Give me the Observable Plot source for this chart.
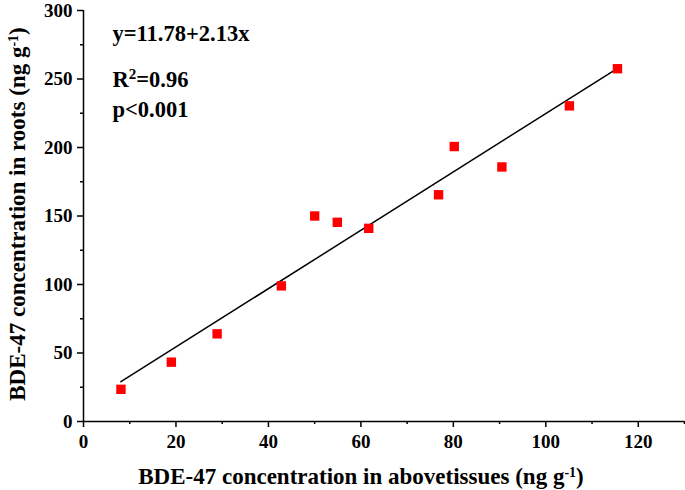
<!DOCTYPE html>
<html>
<head>
<meta charset="utf-8">
<script src="https://cdn.jsdelivr.net/npm/d3@7"></script>
<script src="https://cdn.jsdelivr.net/npm/@observablehq/plot@0.6"></script>
<style>
  html, body { margin: 0; padding: 0; background: #fff; }
  #chart { width: 685px; height: 490px; }
</style>
</head>
<body>
<div id="chart"></div>
<script>
// Data
const aboveTissues = [8.1, 19.0, 28.9, 42.8, 50.0, 54.9, 61.7, 76.8, 80.2, 90.5, 105.1, 115.5];
const roots       = [23.5, 43.3, 64.0, 99.0, 150.0, 145.4, 141.0, 165.5, 200.7, 185.8, 230.4, 257.5];
const fitIntercept = 11.78;
const fitSlope = 2.13;
const annotations = ["y=11.78+2.13x", "R\u00B2=0.96", "p<0.001"];
const xMajorTicks = [0, 20, 40, 60, 80, 100, 120];
const xMinorTicks = [10, 30, 50, 70, 90, 110, 130];
const yMajorTicks = [0, 50, 100, 150, 200, 250, 300];
const yMinorTicks = [25, 75, 125, 175, 225, 275];
const xTitle = "BDE-47 concentration in abovetissues (ng g";
const yTitle = "BDE-47 concentration in roots (ng g";

const points = aboveTissues.map((x, i) => ({x, y: roots[i]}));
const xMin = d3.min(aboveTissues), xMax = d3.max(aboveTissues);
const fitLine = [xMin, xMax].map(x => ({x, y: fitIntercept + fitSlope * x}));

const FONT = '"Liberation Serif", "Times New Roman", Times, serif';

const chart = Plot.plot({
  width: 685,
  height: 490,
  marginLeft: 83,
  marginRight: 1,
  marginTop: 10,
  marginBottom: 69,
  style: {fontFamily: FONT, fontWeight: "bold", fontSize: "19px", color: "#000", background: "#fff", overflow: "visible"},
  x: {domain: [0, 130]},
  y: {domain: [0, 300]},
  marks: [
    Plot.axisX({ticks: xMajorTicks, tickSize: 6, tickPadding: 7, label: null, strokeWidth: 1.5}),
    Plot.axisX({ticks: xMinorTicks, tickSize: 3, tickFormat: () => "", label: null, strokeWidth: 1.5}),
    Plot.axisY({ticks: yMajorTicks, tickSize: 6, tickPadding: 5, label: null, strokeWidth: 1.5}),
    Plot.axisY({ticks: yMinorTicks, tickSize: 3, tickFormat: () => "", label: null, strokeWidth: 1.5}),
    Plot.ruleY([0], {stroke: "#000", strokeWidth: 1.5}),
    Plot.ruleX([0], {stroke: "#000", strokeWidth: 1.5}),
    Plot.line(fitLine, {x: "x", y: "y", stroke: "#000", strokeWidth: 1.5}),
    Plot.dot(points, {x: "x", y: "y", symbol: "square", r: 5.3, fill: "#ff0000", stroke: "none"}),
    Plot.text([annotations[0]], {frameAnchor: "top-left", dx: 29, dy: 30, lineAnchor: "bottom", textAnchor: "start", fontSize: 22.5, fontWeight: "bold", fill: "#000"}),
    Plot.text([annotations[1]], {frameAnchor: "top-left", dx: 29, dy: 76, lineAnchor: "bottom", textAnchor: "start", fontSize: 22.5, fontWeight: "bold", fill: "#000"}),
    Plot.text([annotations[2]], {frameAnchor: "top-left", dx: 29, dy: 106, lineAnchor: "bottom", textAnchor: "start", fontSize: 22.5, fontWeight: "bold", fill: "#000"})
  ]
});

const svg = d3.select(chart);

// Render R² with a real superscript
svg.selectAll("text").filter(function() { return this.textContent === annotations[1]; })
  .each(function() {
    const t = d3.select(this);
    t.text(null);
    t.append("tspan").text("R");
    t.append("tspan").attr("baseline-shift", "super").attr("font-size", "15px").text("2");
    t.append("tspan").text("=0.96");
  });

function addTitle(sel, main) {
  sel.append("tspan").text(main);
  sel.append("tspan").attr("baseline-shift", "super").attr("font-size", "14px").text("-1");
  sel.append("tspan").text(")");
}
const xt = svg.append("text")
  .attr("x", 361).attr("y", 484)
  .attr("text-anchor", "middle")
  .attr("font-family", FONT).attr("font-weight", "bold").attr("font-size", "23px").attr("fill", "#000");
addTitle(xt, xTitle);
const yt = svg.append("text")
  .attr("transform", "translate(25,214) rotate(-90)")
  .attr("text-anchor", "middle")
  .attr("font-family", FONT).attr("font-weight", "bold").attr("font-size", "23px").attr("fill", "#000");
addTitle(yt, yTitle);

document.getElementById("chart").appendChild(chart);
</script>
</body>
</html>
